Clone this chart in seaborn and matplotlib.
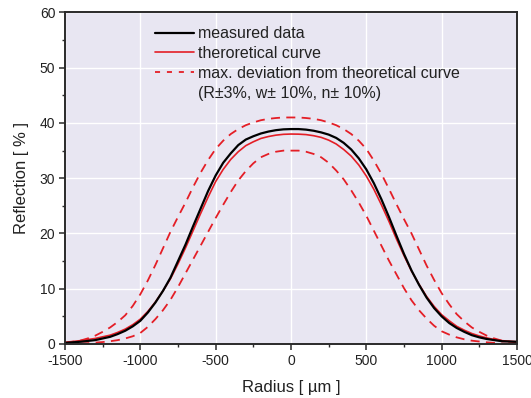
import numpy as np
import pandas as pd
import seaborn as sns
import matplotlib.pyplot as plt
from matplotlib.lines import Line2D
from matplotlib.ticker import MultipleLocator

# values (Reflection in %), every 50 um
radius = list(range(-1500, 1501, 50))
measured = [0.2, 0.3, 0.4, 0.55, 0.7, 1.0, 1.3, 1.8, 2.4, 3.2, 4.2, 5.7, 7.5, 9.6, 12.0, 15.0,
            18.0, 21.3, 24.5, 27.7, 30.5, 32.8, 34.5, 36.0, 37.0, 37.6, 38.1, 38.45, 38.7, 38.85,
            38.9,
            38.9, 38.8, 38.6, 38.3, 37.9, 37.3, 36.4, 35.2, 33.6, 31.6, 29.1, 26.2, 23.0, 19.6,
            16.3, 13.3, 10.7, 8.4, 6.5, 5.0, 3.8, 2.9, 2.2, 1.6, 1.2, 0.9, 0.7, 0.5, 0.45, 0.4]
theoretical = [0.3, 0.45, 0.6, 0.8, 1.0, 1.3, 1.6, 2.1, 2.7, 3.5, 4.5, 5.9, 7.6, 9.6, 11.8, 14.5,
               17.4, 20.5, 23.6, 26.6, 29.4, 31.6, 33.4, 34.8, 35.9, 36.6, 37.2, 37.55, 37.8, 37.95,
               38.0,
               37.98, 37.9, 37.7, 37.4, 36.9, 36.2, 35.2, 34.0, 32.4, 30.4, 28.0, 25.2, 22.2, 19.0,
               16.0, 13.2, 10.8, 8.6, 6.8, 5.3, 4.2, 3.2, 2.5, 1.9, 1.45, 1.1, 0.8, 0.6, 0.5, 0.4]
dev_upper = [0.2, 0.4, 0.6, 1.0, 1.5, 2.2, 3.0, 4.0, 5.2, 6.9, 9.0, 11.5, 14.3, 17.3, 20.3, 23.0,
             25.6, 28.4, 31.0, 33.3, 35.3, 36.8, 38.0, 38.9, 39.6, 40.1, 40.5, 40.75, 40.9, 41.0,
             41.0,
             41.0, 40.9, 40.75, 40.5, 40.1, 39.6, 38.9, 38.0, 36.8, 35.3, 33.2, 30.8, 28.1, 25.3,
             22.6, 20.0, 17.1, 14.2, 11.6, 9.2, 7.2, 5.4, 4.1, 3.0, 2.2, 1.5, 1.0, 0.6, 0.4, 0.3]
dev_lower = [0.0, 0.05, 0.1, 0.15, 0.25, 0.35, 0.5, 0.7, 1.0, 1.4, 2.0, 3.1, 4.5, 6.1, 8.0, 10.3,
             12.8, 15.3, 17.8, 20.3, 22.8, 25.2, 27.5, 29.6, 31.3, 32.7, 33.8, 34.4, 34.8, 35.0,
             35.0,
             35.0, 34.8, 34.4, 33.8, 32.8, 31.4, 29.8, 27.8, 25.6, 23.2, 20.5, 17.8, 15.1, 12.6,
             10.1, 7.9, 6.1, 4.6, 3.3, 2.3, 1.7, 1.2, 0.85, 0.6, 0.45, 0.3, 0.2, 0.1, 0.05, 0.0]

labels = ["measured data", "theroretical curve",
          "max. deviation from theoretical curve", "(R\u00b13%, w\u00b1 10%, n\u00b1 10%)"]

df = pd.DataFrame({"radius": radius, "measured": measured, "theoretical": theoretical,
                   "upper": dev_upper, "lower": dev_lower})

sns.set_style("darkgrid", {"axes.facecolor": "#E8E6F2", "grid.color": "white",
                           "axes.edgecolor": "#2a2a2a"})
plt.rcParams["font.family"] = ["Liberation Sans", "DejaVu Sans"]
plt.rcParams["axes.unicode_minus"] = False

red = "#E41E26"
fig = plt.figure(figsize=(5.31, 3.98), dpi=100)
ax = fig.add_axes([0.1224, 0.1357, 0.8512, 0.8329])

sns.lineplot(data=df, x="radius", y="upper", ax=ax, color=red, lw=1.3, linestyle=(0, (5, 3.5)))
sns.lineplot(data=df, x="radius", y="lower", ax=ax, color=red, lw=1.3, linestyle=(0, (5, 3.5)))
sns.lineplot(data=df, x="radius", y="theoretical", ax=ax, color=red, lw=1.2)
sns.lineplot(data=df, x="radius", y="measured", ax=ax, color="black", lw=1.6)

ax.set_xlim(-1500, 1500)
ax.set_ylim(0, 60)
ax.xaxis.set_major_locator(MultipleLocator(500))
ax.xaxis.set_minor_locator(MultipleLocator(250))
ax.yaxis.set_major_locator(MultipleLocator(10))
ax.yaxis.set_minor_locator(MultipleLocator(5))
ax.grid(True, which="major", color="white", lw=1.0)
ax.grid(False, which="minor")
ax.tick_params(which="major", direction="out", length=4, width=1.1, color="#2a2a2a",
               labelsize=10, labelcolor="#222222", bottom=True, left=True, pad=3)
ax.tick_params(which="minor", direction="out", length=2.5, width=1.0, color="#2a2a2a",
               bottom=True, left=True)
for s in ax.spines.values():
    s.set_linewidth(1.4)
    s.set_color("#2a2a2a")

ax.set_xlabel("Radius [ \u00b5m ]", fontsize=12, color="#222222", labelpad=9)
ax.set_ylabel("Reflection [ % ]", fontsize=12, color="#222222", labelpad=8)

handles = [Line2D([], [], color="black", lw=1.6),
           Line2D([], [], color=red, lw=1.2),
           Line2D([], [], color=red, lw=1.3, linestyle=(0, (2.8, 3.8))),
           Line2D([], [], color="none")]
ax.legend(handles, labels, loc="upper left", bbox_to_anchor=(0.168, 1.002), frameon=False,
          fontsize=11.5, handlelength=2.4, handletextpad=0.3, labelspacing=0.3,
          labelcolor="#222222")

fig.savefig("out.png", dpi=100)
